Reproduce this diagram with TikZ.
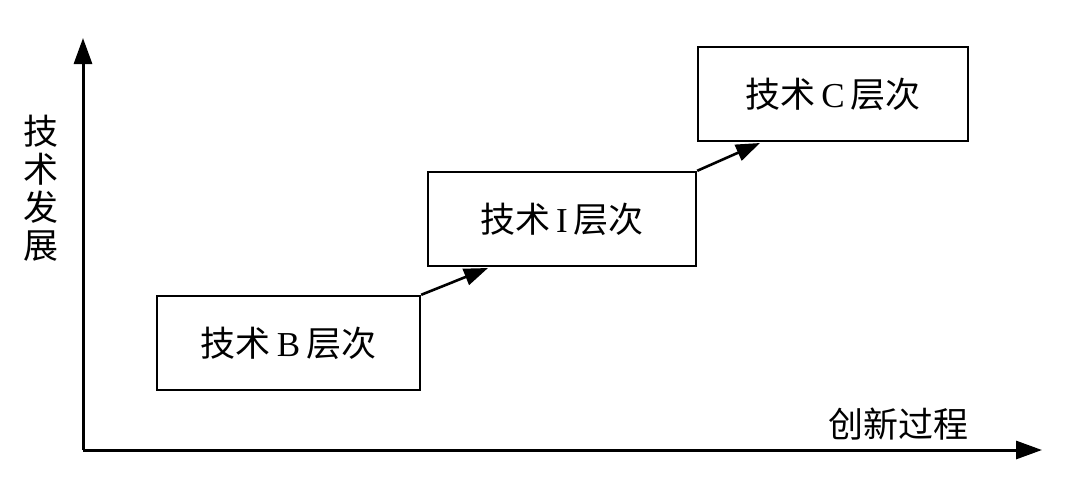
\documentclass[tikz,border=0pt]{standalone}
\usepackage{fontspec}
\setmainfont{Liberation Serif}
\newfontfamily\cjk{Noto Sans CJK SC}
\usetikzlibrary{arrows.meta}
\begin{document}
\begin{tikzpicture}[x=1pt,y=-1pt,
  lvl/.style={draw,line width=2.4pt,minimum width=263pt,minimum height=94pt,inner sep=0pt,font=\fontsize{35}{40}\selectfont},
  axis/.style={line width=3pt,-{Triangle[length=26pt,width=18pt]}},
  conn/.style={line width=2.6pt,-{Triangle[length=24pt,width=17pt]}},
  lbl/.style={font=\fontsize{35}{40}\selectfont\cjk,inner sep=0pt}]
\useasboundingbox (0,0) rectangle (1065,480);
\coordinate (o) at (83,450);
\coordinate (ytop) at (83,38);
\coordinate (xend) at (1042,450);
\draw[axis] (o) -- (ytop);
\draw[axis] (o) -- (xend);
\node[lvl] (b) at (288.5,343) {{\cjk 技术}\,B\,{\cjk 层次}};
\node[lvl,minimum width=268pt] (i) at (562,219) {{\cjk 技术}\,I\,{\cjk 层次}};
\node[lvl,minimum width=270pt] (c) at (833,94) {{\cjk 技术}\,C\,{\cjk 层次}};
\coordinate (t1) at (488,268);
\coordinate (t2) at (760,143);
\draw[conn] (b.north east) -- (t1);
\draw[conn] (i.north east) -- (t2);
\node[lbl,align=center] (ylab) at (41,188) {技\\[-2pt]术\\[-2pt]发\\[-2pt]展};
\node[lbl] (xlab) at (898,424) {创新过程};
\end{tikzpicture}
\end{document}
